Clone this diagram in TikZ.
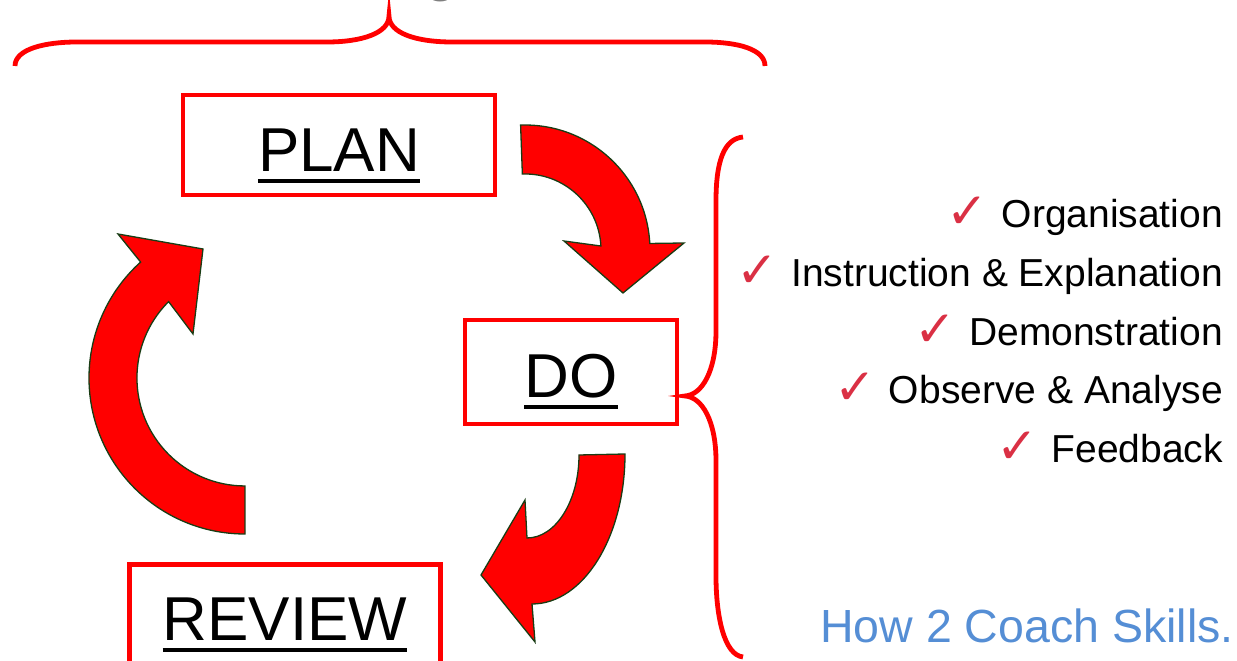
\documentclass[tikz,border=0pt]{standalone}
\usepackage{fontspec}
\setmainfont{Liberation Sans}
\newfontfamily\symfont{DejaVu Sans}
\definecolor{boxred}{RGB}{255,0,0}
\definecolor{arrowedge}{RGB}{25,60,20}
\definecolor{checkred}{RGB}{218,48,68}
\definecolor{linkblue}{RGB}{85,142,213}
\definecolor{titlegray}{RGB}{127,127,127}
\newcommand{\mytick}{{\raisebox{-1pt}{\symfont\fontsize{50}{50}\selectfont\color{checkred}✓}}\hspace{13pt}}
\tikzset{
  stagebox/.style={draw=boxred, line width=4.5pt, inner sep=0pt},
  stagetext/.style={inner sep=0pt, anchor=base, font=\fontsize{62}{70}\selectfont},
  uline/.style={line width=3.5pt, black},
  blockarrow/.style={fill=red, draw=arrowedge, line width=1.3pt, line join=miter},
  bracket/.style={draw=boxred, line width=4.8pt},
  item/.style={inner sep=0pt, anchor=base east, font=\fontsize{39}{45}\selectfont},
}
\begin{document}
\begin{tikzpicture}[x=1pt,y=1pt]
\useasboundingbox (0,0) rectangle (1237,661);

% heading above the brace (only its lowest part is on the page)
\node[inner sep=0pt, anchor=base, text=titlegray, font=\fontsize{60}{70}\selectfont] (heading) at (441,671) {g};

% brace spanning the whole cycle
\draw[bracket] (15,595) .. controls (15,612) and (45,619) .. (77,619)
  -- (327,619) .. controls (362,619) and (389,628) .. (389,645)
  .. controls (389,628) and (416,619) .. (452,619)
  -- (705,619) .. controls (737,619) and (765,612) .. (765,595);

% the three stages
\node[stagebox, minimum width=312pt, minimum height=100pt] (planbox) at (339,516) {};
\node[stagebox, minimum width=212pt, minimum height=104pt] (dobox) at (571,289) {};
\node[stagebox, minimum width=311pt, minimum height=107pt] (reviewbox) at (285,43) {};

\node[stagetext] (plan) at (339,489) {PLAN};
\node[stagetext] (do) at (571,263) {DO};
\node[stagetext] (review) at (285,20) {REVIEW};
\draw[uline] ([yshift=-9pt]plan.base west) -- ([yshift=-9pt]plan.base east);
\draw[uline] ([yshift=-9pt]do.base west) -- ([yshift=-9pt]do.base east);
\draw[uline] ([yshift=-9pt]review.base west) -- ([yshift=-9pt]review.base east);

% curved block arrows: plan -> do -> review -> plan
\draw[blockarrow] (520.6,535.9) arc[start angle=92, end angle=3, radius=125pt]
  -- (684,418) -- (623,368) -- (564,420) -- (600.9,415.0)
  arc[start angle=3, end angle=92, radius=76pt] -- cycle;
\draw[blockarrow] (625,207) arc[start angle=0, end angle=-90, x radius=93pt, y radius=150pt]
  -- (535,19) -- (481,86) -- (525,161) -- (527,123)
  arc[start angle=-90, end angle=0, x radius=52pt, y radius=83pt] -- cycle;
\draw[blockarrow] (245,127) arc[start angle=-90, end angle=-228, radius=156pt]
  -- (118,427) -- (203,412) -- (193,327) -- (168.6,359.4)
  arc[start angle=-225, end angle=-90, radius=108pt] -- cycle;

% brace gathering the skills of the DO stage
\draw[bracket] (743,524) .. controls (724,522) and (716,500) .. (716,460)
  -- (716,330) .. controls (716,290) and (702,266) .. (685,265)
  .. controls (702,264) and (716,240) .. (716,200)
  -- (716,85) .. controls (716,45) and (724,6) .. (743,4);

% skills list
\node[item] (s1) at (1223,433) {\mytick Organisation};
\node[item] (s2) at (1223,374) {\mytick Instruction \& Explanation};
\node[item] (s3) at (1223,315) {\mytick Demonstration};
\node[item] (s4) at (1223,257) {\mytick Observe \& Analyse};
\node[item] (s5) at (1223,198) {\mytick Feedback};

\node[inner sep=0pt, anchor=base east, text=linkblue, font=\fontsize{46.5}{50}\selectfont] (site) at (1234,18) {How 2 Coach Skills.};
\end{tikzpicture}
\end{document}
